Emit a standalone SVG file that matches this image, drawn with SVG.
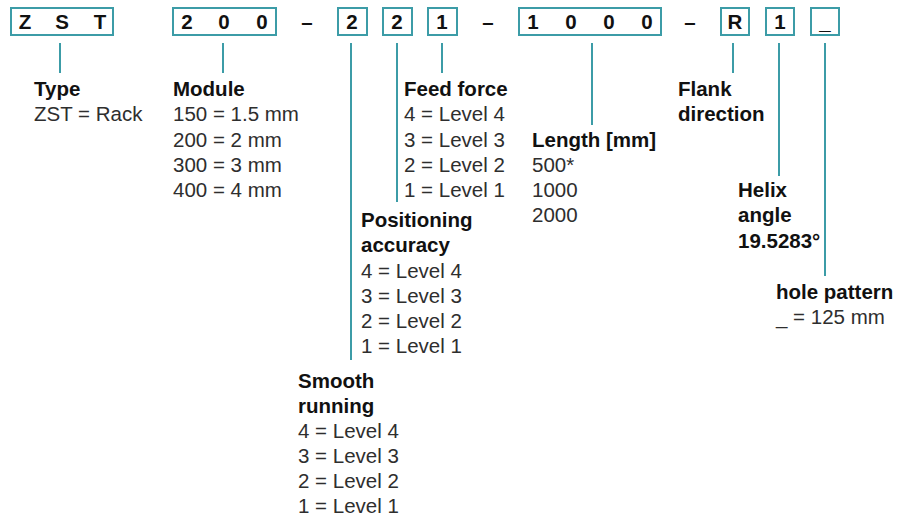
<svg xmlns="http://www.w3.org/2000/svg" width="897" height="517" viewBox="0 0 897 517">
<style>
.box{fill:#fff;stroke:#3c9ca7;stroke-width:2}
.con line{stroke:#3c9ca7;stroke-width:2}
.c{font-family:"Liberation Sans",Arial,sans-serif;font-weight:bold;font-size:20.5px;fill:#111;text-anchor:middle}
.h{font-family:"Liberation Sans",Arial,sans-serif;font-weight:bold;font-size:20.5px;fill:#111}
.t{font-family:"Liberation Sans",Arial,sans-serif;font-size:20.5px;fill:#2e2e2e}
</style>
<rect width="897" height="517" fill="#fff"/>
<g id="code">
<rect class="box" x="11" y="8" width="102" height="27"/>
<text class="c" x="25" y="29">Z</text><text class="c" x="62" y="29">S</text><text class="c" x="100" y="29">T</text>
<rect class="box" x="173" y="8" width="103" height="27"/>
<text class="c" x="187" y="29">2</text><text class="c" x="224" y="29">0</text><text class="c" x="262" y="29">0</text>
<text class="c" x="307" y="29">–</text>
<rect class="box" x="338" y="8" width="29" height="27"/>
<text class="c" x="352" y="29">2</text>
<rect class="box" x="383" y="8" width="29" height="27"/>
<text class="c" x="397" y="29">2</text>
<rect class="box" x="428" y="8" width="29" height="27"/>
<text class="c" x="442" y="29">1</text>
<text class="c" x="488" y="29">–</text>
<rect class="box" x="519" y="8" width="142" height="27"/>
<text class="c" x="533" y="29">1</text><text class="c" x="571" y="29">0</text><text class="c" x="609" y="29">0</text><text class="c" x="647" y="29">0</text>
<text class="c" x="690" y="29">–</text>
<rect class="box" x="721" y="8" width="28" height="27"/>
<text class="c" x="735" y="29">R</text>
<rect class="box" x="766" y="8" width="28" height="27"/>
<text class="c" x="780" y="29">1</text>
<rect class="box" x="811" y="8" width="28" height="27"/>
<text class="c" x="825" y="29">_</text>
</g>
<g id="connectors" class="con">
<line x1="60" y1="43" x2="60" y2="73"/>
<line x1="223" y1="43" x2="223" y2="73"/>
<line x1="351" y1="43" x2="351" y2="360"/>
<line x1="397" y1="43" x2="397" y2="202"/>
<line x1="442" y1="43" x2="442" y2="73"/>
<line x1="592" y1="43" x2="592" y2="125"/>
<line x1="733" y1="43" x2="733" y2="73"/>
<line x1="779" y1="43" x2="779" y2="176"/>
<line x1="825" y1="43" x2="825" y2="276"/>
</g>
<g id="type">
<text class="h" x="34" y="96">Type</text>
<text class="t" x="34" y="121">ZST = Rack</text>
</g>
<g id="module">
<text class="h" x="173" y="96">Module</text>
<text class="t" x="173" y="121">150 = 1.5 mm</text>
<text class="t" x="173" y="147">200 = 2 mm</text>
<text class="t" x="173" y="172">300 = 3 mm</text>
<text class="t" x="173" y="197">400 = 4 mm</text>
</g>
<g id="feed">
<text class="h" x="404" y="96">Feed force</text>
<text class="t" x="404" y="121">4 = Level 4</text>
<text class="t" x="404" y="147">3 = Level 3</text>
<text class="t" x="404" y="172">2 = Level 2</text>
<text class="t" x="404" y="197">1 = Level 1</text>
</g>
<g id="length">
<text class="h" x="532" y="147">Length [mm]</text>
<text class="t" x="532" y="172">500*</text>
<text class="t" x="532" y="197">1000</text>
<text class="t" x="532" y="222">2000</text>
</g>
<g id="positioning">
<text class="h" x="361" y="227">Positioning</text>
<text class="h" x="361" y="252">accuracy</text>
<text class="t" x="361" y="278">4 = Level 4</text>
<text class="t" x="361" y="303">3 = Level 3</text>
<text class="t" x="361" y="328">2 = Level 2</text>
<text class="t" x="361" y="353">1 = Level 1</text>
</g>
<g id="smooth">
<text class="h" x="298" y="388">Smooth</text>
<text class="h" x="298" y="413">running</text>
<text class="t" x="298" y="438">4 = Level 4</text>
<text class="t" x="298" y="463">3 = Level 3</text>
<text class="t" x="298" y="488">2 = Level 2</text>
<text class="t" x="298" y="513">1 = Level 1</text>
</g>
<g id="flank">
<text class="h" x="678" y="96">Flank</text>
<text class="h" x="678" y="121">direction</text>
</g>
<g id="helix">
<text class="h" x="738" y="197">Helix</text>
<text class="h" x="738" y="222">angle</text>
<text class="h" x="738" y="248">19.5283°</text>
</g>
<g id="hole">
<text class="h" x="776" y="299">hole pattern</text>
<text class="t" x="776" y="324">_ = 125 mm</text>
</g>
</svg>
